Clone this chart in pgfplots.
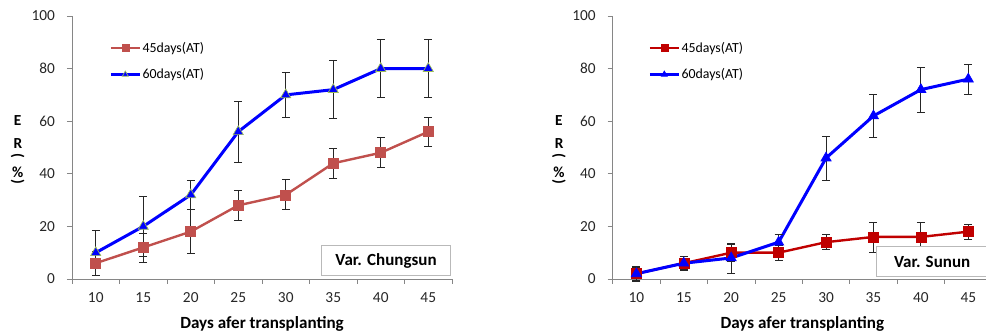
\documentclass[border=0pt]{standalone}
\usepackage{pgfplots}
\pgfplotsset{compat=1.18}
\usepackage{pgfplotstable}
\usepackage{fontspec}
\setmainfont{Carlito}
\definecolor{axgray}{HTML}{868686}
\definecolor{redA}{HTML}{C0504D}
\definecolor{redB}{HTML}{C00000}
\definecolor{triedge}{HTML}{9BBB59}

\pgfplotstableread{
x y45 e45 y60 e60
10 6 4.5 10 8.5
15 12 5.5 20 11.4
20 18 8.4 32 5.6
25 28 5.7 56 11.5
30 32 5.7 70 8.4
35 44 5.6 72 11
40 48 5.7 80 11.1
45 56 5.6 80 11.1
}\chungsun

\pgfplotstableread{
x y45 e45 y60 e60
10 2 2.5 2 2.8
15 6 2.7 6 2.5
20 10 3.3 8 5.7
25 10 2.8 14 3
30 14 2.8 46 8.4
35 16 5.7 62 8.3
40 16 5.7 72 8.5
45 18 2.8 76 5.7
}\sunun

\tikzset{ylab/.style={font=\fontsize{11.5}{12}\selectfont\bfseries}}

\pgfplotsset{
  myaxis/.style={
    scale only axis,
    clip=false,
    height=197.25pt,
    xmin=7.5, xmax=47.5,
    ymin=0, ymax=100,
    axis x line*=bottom,
    axis y line*=left,
    axis line style={axgray, line width=0.6pt},
    tick style={axgray, line width=0.6pt},
    tick align=outside,
    major tick length=3.75pt,
    xtick={7.5,12.5,...,47.5},
    xticklabels={},
    extra x ticks={10,15,20,25,30,35,40,45},
    extra x tick labels={10,15,20,25,30,35,40,45},
    extra x tick style={major tick length=0pt},
    ytick={0,20,40,60,80,100},
    /pgf/number format/assume math mode=true,
    tick label style={font=\fontsize{11.5}{13}\selectfont, text=black!85},
    xticklabel style={yshift=-6.5pt},
    yticklabel style={xshift=-5.5pt},
    xlabel={Days afer transplanting},
    xlabel style={font=\fontsize{12.8}{14}\selectfont\bfseries},
    legend cell align=left,
    legend style={draw=none, fill=none, inner sep=0pt, row sep=8.75pt,
      font=\fontsize{10.4}{12}\selectfont, anchor=north west,
      nodes={inner sep=1pt}},
    legend image code/.code={
      \draw[mark repeat=2,mark phase=2,##1, mark size=2.6pt]
      plot coordinates {(0pt,0pt) (10.9pt,0pt) (21.75pt,0pt)};},
    error bars/y dir=both,
    error bars/y explicit,
    error bars/error bar style={black!85, line width=0.6pt},
    error bars/error mark options={black!85, line width=0.6pt, mark size=3pt, rotate=90},
  },
}

\begin{document}
\begin{tikzpicture}
\clip (0,0) rectangle (739.5pt,249pt);
% ---------------- left ----------------
\begin{axis}[myaxis, width=285pt, at={(54pt,39.75pt)}, anchor=south west,
  legend style={at={(rel axis cs:0,0)}, xshift=27.75pt, yshift=179pt}]
\addplot[redA, line width=1.8pt, mark=square*, mark size=3.75pt,
  mark options={fill=redA, draw=redA, line width=0.4pt}]
  table[x=x, y=y45, y error=e45] {\chungsun};
\addlegendentry{45days(AT)}
\addplot[blue, line width=2.25pt, mark=triangle*, mark size=4.4pt,
  mark options={fill=blue, draw=triedge, line width=0.5pt}]
  table[x=x, y=y60, y error=e60] {\chungsun};
\addlegendentry{60days(AT)}
\node[ylab] at ([xshift=-40.7pt, yshift=118.5pt]rel axis cs:0,0) {E};
\node[ylab] at ([xshift=-40.5pt, yshift=101.5pt]rel axis cs:0,0) {R};
\node[ylab] at ([xshift=-40.7pt, yshift=92pt]rel axis cs:0,0) {\rotatebox{-90}{(}};
\node[ylab] at ([xshift=-40.7pt, yshift=80.25pt]rel axis cs:0,0) {\%};
\node[ylab] at ([xshift=-40.7pt, yshift=72.5pt]rel axis cs:0,0) {\rotatebox{-90}{)}};
\node[draw=gray!55, fill=white, line width=0.7pt, minimum width=96.75pt, minimum height=22.5pt,
  anchor=south east, font=\fontsize{12.75}{14}\selectfont\bfseries]
  at ([xshift=-0.75pt, yshift=2.25pt]rel axis cs:1,0) {Var. Chungsun};
\end{axis}
% ---------------- right ----------------
\begin{axis}[myaxis, width=284.5pt, at={(459.5pt,39.75pt)}, anchor=south west,
  legend style={at={(rel axis cs:0,0)}, xshift=26.5pt, yshift=179pt}]
\addplot[redB, line width=1.8pt, mark=square*, mark size=3.75pt,
  mark options={fill=redB, draw=redB, line width=0.4pt}]
  table[x=x, y=y45, y error=e45] {\sunun};
\addlegendentry{45days(AT)}
\addplot[blue, line width=2.25pt, mark=triangle*, mark size=4.4pt,
  mark options={fill=blue, draw=blue, line width=0.5pt}]
  table[x=x, y=y60, y error=e60] {\sunun};
\addlegendentry{60days(AT)}
\node[ylab] at ([xshift=-40.3pt, yshift=118.5pt]rel axis cs:0,0) {E};
\node[ylab] at ([xshift=-40.1pt, yshift=101.5pt]rel axis cs:0,0) {R};
\node[ylab] at ([xshift=-40.3pt, yshift=92pt]rel axis cs:0,0) {\rotatebox{-90}{(}};
\node[ylab] at ([xshift=-40.3pt, yshift=80.25pt]rel axis cs:0,0) {\%};
\node[ylab] at ([xshift=-40.3pt, yshift=72.5pt]rel axis cs:0,0) {\rotatebox{-90}{)}};
\node[draw=gray!55, fill=white, line width=0.7pt, minimum width=84pt, minimum height=22.5pt,
  anchor=south west, font=\fontsize{12.75}{14}\selectfont\bfseries]
  at ([xshift=197.25pt, yshift=1.5pt]rel axis cs:0,0) {Var. Sunun};
\end{axis}
\end{tikzpicture}
\end{document}
